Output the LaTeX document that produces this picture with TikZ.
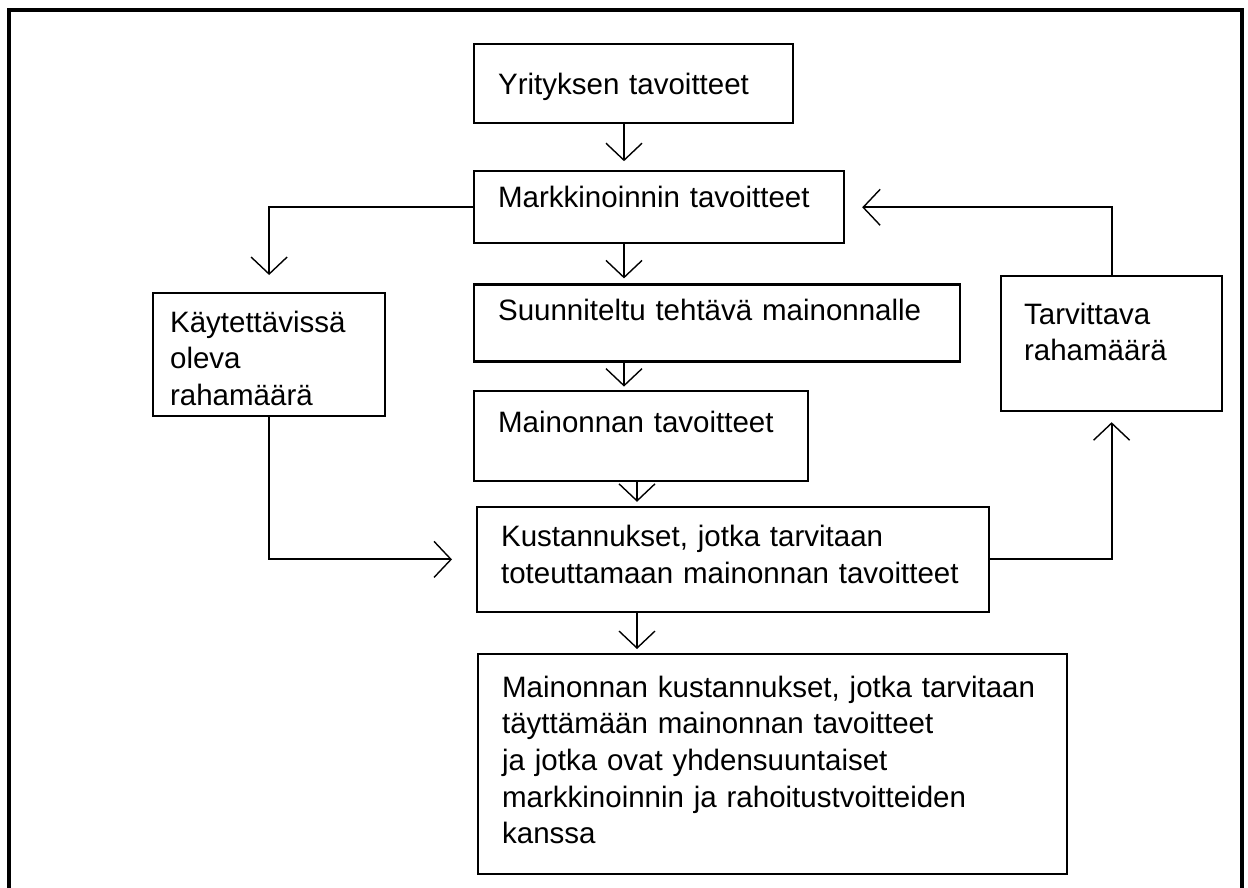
\documentclass[tikz,border=0pt]{standalone}
\usepackage{fontspec}
\setmainfont{Liberation Sans}
\usetikzlibrary{arrows.meta,positioning}

\tikzset{
  every node/.append style={font=\fontsize{29.5pt}{36.7pt}\selectfont},
}

\begin{document}
\begin{tikzpicture}[
  x=1pt, y=-1pt,
  blk/.style  ={draw, line width=2.2pt, anchor=north west, align=left,
                inner ysep=0pt, inner xsep=24pt},
  side/.style ={blk, inner xsep=20pt},
  frame/.style={line width=3.5pt},
  arrow/.style={-{Straight Barb[length=17pt,width=36pt,line width=1.4pt]}, line width=2pt}
]
\useasboundingbox (0,0) rectangle (1248,888);

% outer frame, open at the bottom
\draw[frame] (9,888) |- (1242,10) -- (1242,888);

% middle column
\node[blk, text width=271pt, text height=50pt, text depth=29pt] (yrit) at (473,43) {Yrityksen tavoitteet};
\node[blk, below=46pt of yrit.south west, anchor=north west,
      text width=322pt, text height=36pt, text depth=36pt] (mark) {Markkinoinnin tavoitteet};
\node[blk, below=39pt of mark.south west, anchor=north west,
      text width=438pt, text height=36pt, text depth=41pt] (suun) {Suunniteltu tehtävä mainonnalle};
\node[blk, below=27pt of suun.south west, anchor=north west,
      text width=286pt, text height=42pt, text depth=48pt] (main) {Mainonnan tavoitteet};
\node[blk, below=24pt of main.south west, anchor=north west, xshift=3pt,
      text width=464pt, text height=40pt, text depth=65pt] (kust)
  {Kustannukset, jotka tarvitaan\\toteuttamaan mainonnan tavoitteet};
\node[blk, below=40pt of kust.south west, anchor=north west, xshift=1pt,
      text width=541pt, text height=43pt, text depth=177pt] (mkus)
  {Mainonnan kustannukset, jotka tarvitaan\\täyttämään mainonnan tavoitteet\\ja jotka ovat yhdensuuntaiset\\markkinoinnin ja rahoitustvoitteiden\\kanssa};

% side boxes
\node[side, inner xsep=17pt, text width=198pt, text height=39pt, text depth=84pt] (kayt) at (152,292)
  {Käytettävissä\\oleva\\rahamäärä};
\node[side, inner xsep=23pt, text width=175pt, text height=48pt, text depth=87pt] (tarv) at (1000,275)
  {Tarvittava\\rahamäärä};

% spine of the middle column
\coordinate (spineA) at (624,0);
\coordinate (spineB) at (637,0);

\foreach \a/\b/\c/\g in {yrit/mark/spineA/9pt, mark/suun/spineA/5pt, suun/main/spineA/3pt,
                         main/kust/spineB/4pt, kust/mkus/spineB/4pt}{
  \draw[arrow, shorten >=\g] (\a.south -| \c) -- (\b.north -| \c);
}

% loop round the sides
\draw[arrow, shorten >=17pt] (mark.west) -| (kayt.north);
\draw[arrow, shorten >=24pt] (kayt.south) |- (kust.west);
\draw[arrow, shorten >=10pt] (kust.east) -| (tarv.south);
\draw[arrow, shorten >=17pt] (tarv.north) |- (mark.east);

\end{tikzpicture}
\end{document}
